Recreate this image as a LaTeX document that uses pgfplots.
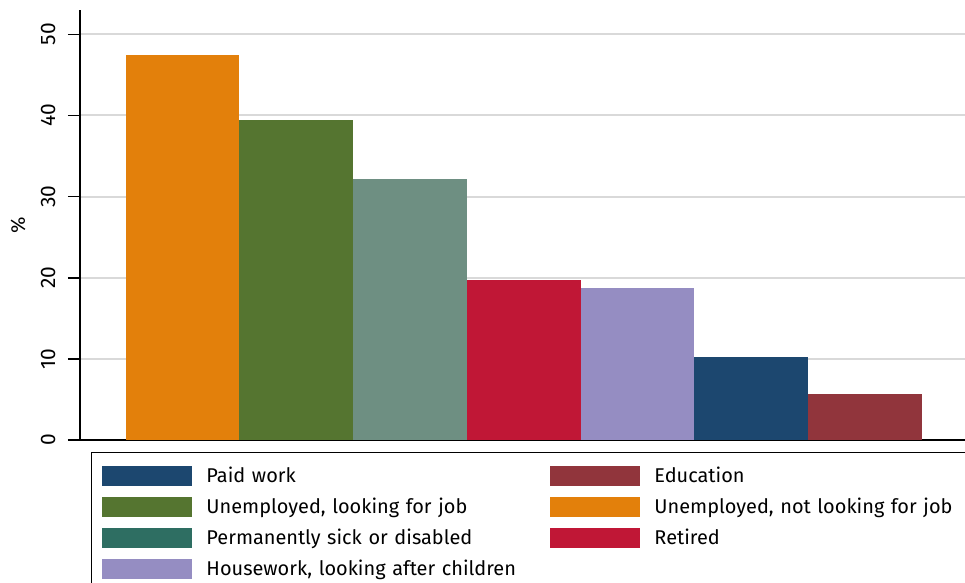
\documentclass[border=0pt]{standalone}
\usepackage{pgfplots}
\pgfplotsset{compat=1.18}
\usepackage{fontspec}
\setmainfont{Fira Sans}

\definecolor{cpaid}{HTML}{1C476F}
\definecolor{cedu}{HTML}{91353C}
\definecolor{cunlook}{HTML}{557530}
\definecolor{cunnot}{HTML}{E3800B}
\definecolor{csick}{HTML}{2E6E62}
\definecolor{csickbar}{HTML}{6E8F82}
\definecolor{cret}{HTML}{C01736}
\definecolor{chouse}{HTML}{958DC2}
\definecolor{cgrid}{HTML}{D9D9D9}

\begin{document}
\begin{tikzpicture}
\begin{axis}[
    scale only axis,
    width=885bp,
    height=430bp,
    xmin=0.1, xmax=7.88,
    ymin=0, ymax=53,
    axis x line=bottom,
    axis y line=left,
    axis line style={-, line width=1.6bp},
    xtick=\empty,
    ytick={0,10,20,30,40,50},
    ymajorgrids,
    major grid style={cgrid, line width=2bp},
    tick style={black, line width=1.6bp},
    major tick length=12bp,
    tick align=outside,
    yticklabel style={anchor=south, rotate=90, yshift=9bp, font=\fontsize{21}{22}\selectfont},
    /pgf/number format/assume math mode=true,
    ylabel={\%},
    ylabel style={font=\fontsize{20}{22}\selectfont, at={(axis description cs:-0.070,0.5)}, anchor=center},
    ybar, bar width=1, bar shift=0pt,
    legend columns=2,
    legend cell align=left,
    legend style={
        at={(0,0)}, anchor=north west, xshift=11bp, yshift=-12bp,
        draw=black, line width=1bp, inner xsep=10bp, inner ysep=7.5bp,
        column sep=0pt, row sep=0pt,
        font=\fontsize{20}{22}\selectfont,
        nodes={inner sep=0pt, text width=343bp, text height=15bp, text depth=2bp},
    },
]
\coordinate (ll) at (rel axis cs:0,0);
\coordinate (ur) at (rel axis cs:1,1);

\addplot[fill=cunnot, draw=none, forget plot] coordinates {(1,47.4)};
\addplot[fill=cunlook, draw=none, forget plot] coordinates {(2,39.4)};
\addplot[fill=csickbar, draw=none, forget plot] coordinates {(3,32.2)};
\addplot[fill=cret, draw=none, forget plot] coordinates {(4,19.7)};
\addplot[fill=chouse, draw=none, forget plot] coordinates {(5,18.7)};
\addplot[fill=cpaid, draw=none, forget plot] coordinates {(6,10.2)};
\addplot[fill=cedu, draw=none, forget plot] coordinates {(7,5.7)};

\pgfplotsset{leg/.style={legend image code/.code={
    \fill[##1, draw=none] (0bp,-10bp) rectangle (90bp,10bp);
    \path (0bp,-15bp) (104bp,15bp);}}}
\addlegendimage{leg, fill=cpaid}
\addlegendentry{Paid work}
\addlegendimage{leg, fill=cedu}
\addlegendentry{Education}
\addlegendimage{leg, fill=cunlook}
\addlegendentry{Unemployed, looking for job}
\addlegendimage{leg, fill=cunnot}
\addlegendentry{Unemployed, not looking for job}
\addlegendimage{leg, fill=csick}
\addlegendentry{Permanently sick or disabled}
\addlegendimage{leg, fill=cret}
\addlegendentry{Retired}
\addlegendimage{leg, fill=chouse}
\addlegendentry{Housework, looking after children}
\end{axis}
\pgfresetboundingbox
\path ([shift={(-80bp,-143bp)}]ll) rectangle ([shift={(0bp,10bp)}]ur);
\end{tikzpicture}
\end{document}
